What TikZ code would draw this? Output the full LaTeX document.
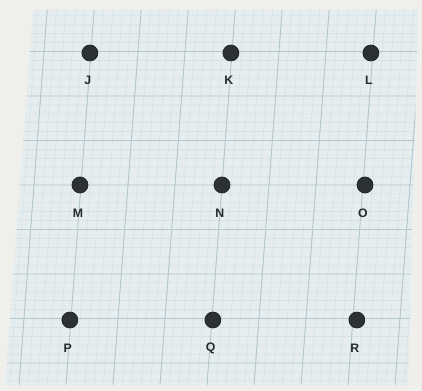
\documentclass[tikz,border=0pt]{standalone}
\usepackage{fontspec}
\newfontfamily\lblfont{Liberation Sans}
\usepackage{tikz}

\definecolor{paper}{HTML}{EFEFEC}
\definecolor{sheet}{HTML}{E6EDEF}
\definecolor{minorline}{HTML}{D2DFE3}
\definecolor{majorline}{HTML}{B2C7CE}
\definecolor{dotgray}{HTML}{2C3136}

\tikzset{
  pt/.style={circle, fill=dotgray, draw=dotgray!70!black, minimum size=0.32cm, inner sep=0pt},
  lbl/.style={font=\lblfont\fontsize{7}{8}\selectfont\bfseries, text=dotgray!85!black, inner sep=0pt}
}

\begin{document}
\begin{tikzpicture}[x=0.02cm, y=0.02cm]
    % page
    \fill[paper] (-222,-206) rectangle (200,185);
    \useasboundingbox (-222,-206) rectangle (200,185);

    % grid sheet (photo is slightly skewed)
    \begin{scope}[xslant=0.075]
        \fill[sheet] (-202,-200) -- (201,-200) -- (183,175) -- (-202,175) -- cycle;
        \clip (-202,-200) -- (201,-200) -- (183,175) -- (-202,175) -- cycle;
        \draw[minorline, line width=0.25pt, step={(9.4,8.9)}] (-240,-240) grid (240,240);
        \draw[majorline, line width=0.5pt, step={(47,44.5)}] (-240,-240) grid (240,240);

        % top row
        \node[pt] (J) at (-142,132) {};
        \node[pt] (K) at (-1,132) {};
        \node[pt] (L) at (139,132) {};
        \node[lbl] (Jl) at (-142,105) {J};
        \node[lbl] (Kl) at (-1,105) {K};
        \node[lbl] (Ll) at (139,105) {L};

        % middle row
        \node[pt] (M) at (-142,0) {};
        \node[pt] (N) at (0,0) {};
        \node[pt] (O) at (143,0) {};
        \node[lbl] (Ml) at (-142,-28) {M};
        \node[lbl] (Nl) at (0,-28) {N};
        \node[lbl] (Ol) at (143,-28) {O};

        % bottom row
        \node[pt] (P) at (-142,-135) {};
        \node[pt] (Q) at (1,-135) {};
        \node[pt] (R) at (145,-135) {};
        \node[lbl] (Pl) at (-142,-163) {P};
        \node[lbl] (Ql) at (1,-163) {Q};
        \node[lbl] (Rl) at (145,-163) {R};
    \end{scope}
\end{tikzpicture}
\end{document}
